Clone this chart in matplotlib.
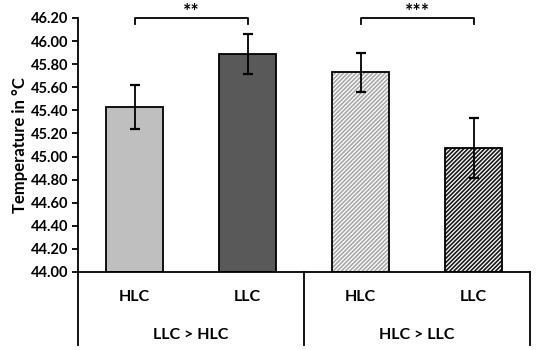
import matplotlib.pyplot as plt
import numpy as np

plt.rcParams['font.family'] = ['Lato', 'DejaVu Sans']
plt.rcParams['hatch.linewidth'] = 1.2

# data
conditions = ["HLC", "LLC", "HLC", "LLC"]
groups = ["LLC > HLC", "HLC > LLC"]
temps = [45.43, 45.89, 45.73, 45.07]
errs = [0.19, 0.175, 0.17, 0.26]
signif = ["**", "***"]

face_colors = ["#bfbfbf", "#595959", "white", "white"]
hatch_colors = [None, None, "#a8a8a8", "#1a1a1a"]

fig = plt.figure(figsize=(5.36, 3.5), dpi=100)
ax = fig.add_axes([0.1455, 0.2229, 0.8435, 0.7257])

x = np.arange(len(temps))
for i in range(len(temps)):
    if hatch_colors[i] is None:
        ax.bar(x[i], temps[i] - 44.0, bottom=44.0, width=0.5,
               color=face_colors[i], edgecolor="black", linewidth=1.3, zorder=2)
    else:
        ax.bar(x[i], temps[i] - 44.0, bottom=44.0, width=0.5,
               color="white", edgecolor=hatch_colors[i], hatch="////////",
               linewidth=0, zorder=2)
        ax.bar(x[i], temps[i] - 44.0, bottom=44.0, width=0.5,
               fill=False, edgecolor="black", linewidth=1.3, zorder=3)

ax.errorbar(x, temps, yerr=errs, fmt="none", ecolor="black",
            elinewidth=1.3, capsize=3.5, capthick=1.6, zorder=4)

ax.set_xlim(-0.5, 3.5)
ax.set_ylim(44.0, 46.2)
yt = np.arange(44.0, 46.21, 0.2)
ax.set_yticks(yt)
ax.set_yticklabels([f"{v:.2f}" for v in yt], fontsize=10.5, fontweight="bold")
ax.tick_params(axis="y", direction="out", length=4, width=1.3, pad=3)
ax.set_xticks([])
for s in ["top", "right"]:
    ax.spines[s].set_visible(False)
ax.spines["bottom"].set_linewidth(1.3)
ax.spines["left"].set_visible(False)
ax.set_ylabel("Temperature in °C", fontsize=12, fontweight="bold", labelpad=2)

trans = ax.get_xaxis_transform()
bot = -0.287
# extended axis frame below the plot (category boxes)
ax.plot([-0.5, -0.5], [1.0, bot], transform=trans, color="black",
        lw=1.3, clip_on=False)
ax.plot([1.5, 1.5], [0, bot], transform=trans, color="black",
        lw=1.3, clip_on=False)
ax.plot([3.5, 3.5], [0, bot], transform=trans, color="black",
        lw=1.3, clip_on=False)

for i, lab in enumerate(conditions):
    ax.text(x[i], -0.1, lab, transform=trans, ha="center", va="center",
            fontsize=11.5, fontweight="bold")
for g, lab in enumerate(groups):
    ax.text(2 * g + 0.5, -0.248, lab, transform=trans, ha="center",
            va="center", fontsize=11.5, fontweight="bold")

# significance brackets
yb = 46.2
for g, star in enumerate(signif):
    x0, x1 = 2 * g, 2 * g + 1
    ax.plot([x0, x0, x1, x1], [yb - 0.05, yb, yb, yb - 0.05], color="black",
            lw=1.3, clip_on=False)
    ax.text((x0 + x1) / 2, yb - 0.02, star, ha="center", va="bottom",
            fontsize=14, fontweight="bold")

fig.savefig("out.png", dpi=100)
